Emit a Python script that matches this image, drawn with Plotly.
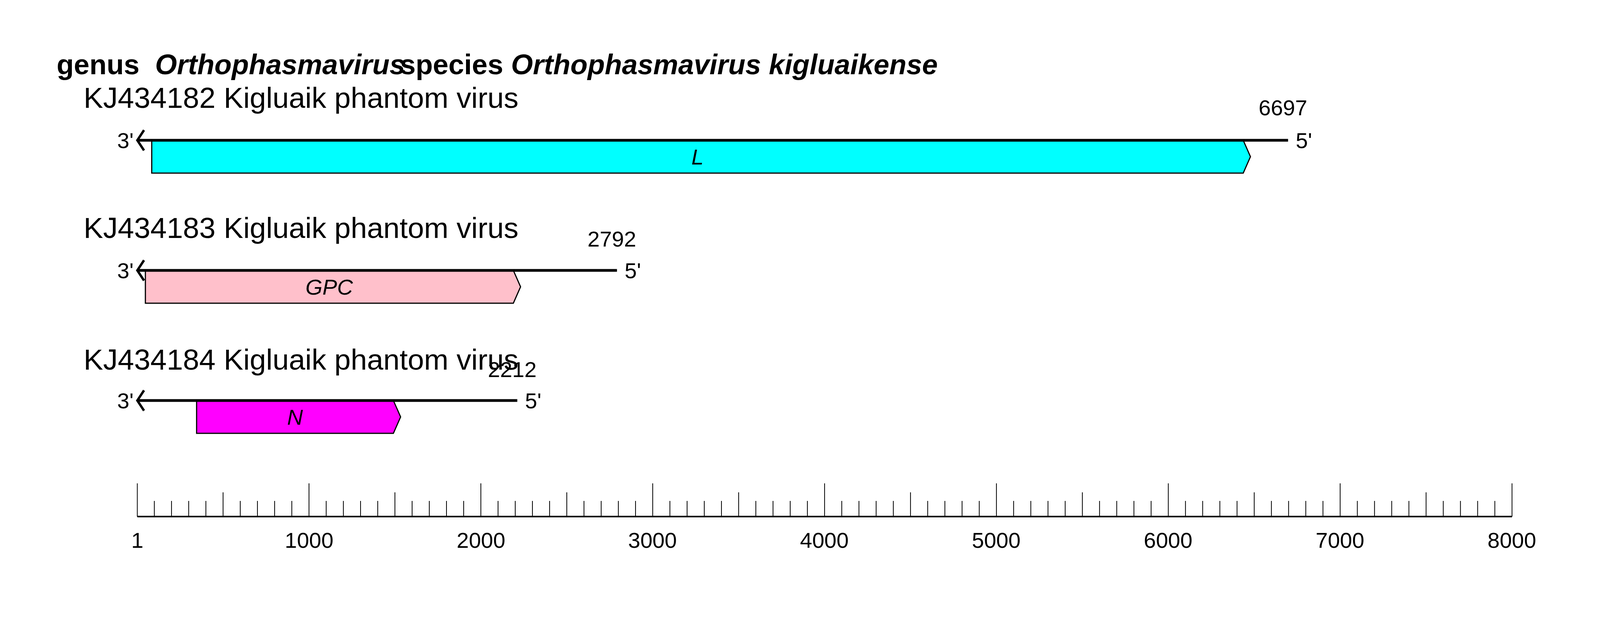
import plotly.graph_objects as go

genus = "Orthophasmavirus"
species = "Orthophasmavirus kigluaikense"
accessions = ["KJ434182 Kigluaik phantom virus", "KJ434183 Kigluaik phantom virus", "KJ434184 Kigluaik phantom virus"]
lengths = [6697, 2792, 2212]
gene_names = ["L", "GPC", "N"]
gene_starts = [85, 48, 346]
gene_ends = [6478, 2231, 1533]
gene_colors = ["#00FFFF", "#FFC0CB", "#FF00FF"]
tick_values = [1, 1000, 2000, 3000, 4000, 5000, 6000, 7000, 8000]
tick_labels = ["1", "1000", "2000", "3000", "4000", "5000", "6000", "7000", "8000"]

W, H = 4871, 1620
FONT = "Liberation Sans"
X0, PXU = -798, 0.5232
row_title_y = [250, 583, 920]
row_num_y = [275, 611, 945]
row_line_y = [359, 692, 1025]
box_h = 84
axis_y = 1322
SMALL = 56

fig = go.Figure()
ann = []

def px2x(p):
    return X0 + p / PXU

for i in range(3):
    ly = row_line_y[i]
    L = lengths[i]
    s, e = gene_starts[i], gene_ends[i]
    tip = 42
    xs = [s, e - tip, e, e - tip, s, s]
    ys = [ly, ly, ly + box_h / 2, ly + box_h, ly + box_h, ly]
    fig.add_trace(go.Scatter(x=xs, y=ys, mode="lines", fill="toself", fillcolor=gene_colors[i],
                             line=dict(color="black", width=3), hoverinfo="skip"))
    fig.add_trace(go.Scatter(x=[1, L], y=[ly, ly], mode="lines", line=dict(color="black", width=7),
                             hoverinfo="skip"))
    fig.add_trace(go.Scatter(x=[40, 1, 40], y=[ly - 26, ly, ly + 26], mode="lines",
                             line=dict(color="black", width=6), hoverinfo="skip"))
    ann.append(dict(x=(s + e - tip) / 2, y=ly + box_h / 2, text=f"<i>{gene_names[i]}</i>",
                    font=dict(size=SMALL, family=FONT, color="black"), showarrow=False))
    ann.append(dict(x=-15, y=ly, text="3'", xanchor="right", font=dict(size=SMALL, family=FONT, color="black"),
                    showarrow=False))
    ann.append(dict(x=L + 40, y=ly, text="5'", xanchor="left", font=dict(size=SMALL, family=FONT, color="black"),
                    showarrow=False))
    ann.append(dict(x=L - 30, y=row_num_y[i], text=str(L), xanchor="center",
                    font=dict(size=SMALL, family=FONT, color="black"), showarrow=False))
    ann.append(dict(x=px2x(252), y=row_title_y[i], text=accessions[i], xanchor="left",
                    font=dict(size=75, family=FONT, color="black"), showarrow=False))

ann.append(dict(x=px2x(170), y=165, text=f"<b>genus  <i>{genus}</i></b>", xanchor="left",
                font=dict(size=72, family=FONT, color="black"), showarrow=False))
ann.append(dict(x=px2x(1215), y=165, text=f"<b>species <i>{species}</i></b>", xanchor="left",
                font=dict(size=72, family=FONT, color="black"), showarrow=False))

fig.add_trace(go.Scatter(x=[1, 8000], y=[axis_y, axis_y], mode="lines", line=dict(color="black", width=4),
                         hoverinfo="skip"))
tx, ty = [], []
positions = [1] + list(range(100, 8001, 100))
for p in positions:
    if p == 1 or p % 1000 == 0:
        h = 85
    elif p % 500 == 0:
        h = 62
    else:
        h = 40
    tx += [p, p, None]
    ty += [axis_y, axis_y - h, None]
fig.add_trace(go.Scatter(x=tx, y=ty, mode="lines", line=dict(color="black", width=2), hoverinfo="skip"))
for v, t in zip(tick_values, tick_labels):
    ann.append(dict(x=v, y=1382, text=t, font=dict(size=SMALL, family=FONT, color="black"), showarrow=False))

fig.update_layout(
    autosize=True, margin=dict(l=0, r=0, t=0, b=0),
    paper_bgcolor="white", plot_bgcolor="white", showlegend=False,
    xaxis=dict(range=[X0, X0 + W / PXU], visible=False, fixedrange=True),
    yaxis=dict(range=[H, 0], visible=False, fixedrange=True),
    annotations=ann,
)
fig.write_html("out.html", default_width="100vw", default_height="100vh",
               config={"responsive": True, "displayModeBar": False},
               post_script="document.body.style.margin='0';document.body.style.overflow='hidden';"
                           "Plotly.Plots.resize(document.getElementById('{plot_id}'));")
